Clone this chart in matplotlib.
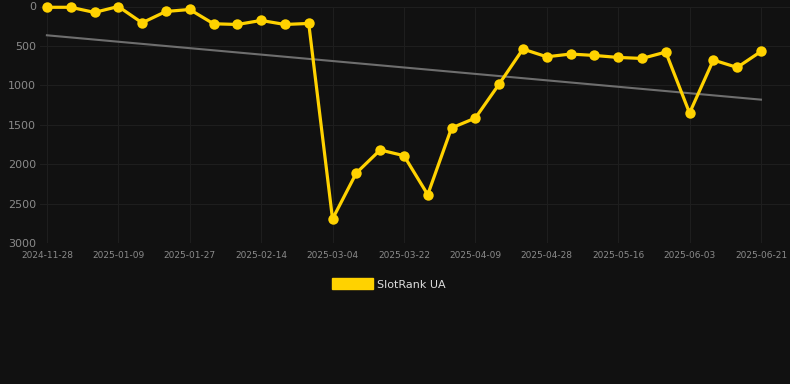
import numpy as np
import matplotlib.pyplot as plt
from matplotlib.patches import Patch

# =====================================================
# DATA
# =====================================================

tick_labels = ["2024-11-28", "2025-01-09", "2025-01-27", "2025-02-14",
               "2025-03-04", "2025-03-22", "2025-04-09", "2025-04-28",
               "2025-05-16", "2025-06-03", "2025-06-21"]

rank = [10, 10, 75, 0, 207, 63, 38, 219, 228, 177, 228, 215,
        2695, 2112, 1820, 1892, 2387, 1541, 1415, 984,
        540, 638, 603, 621, 646, 659, 578, 1351, 679, 773, 570]

series_name = "SlotRank UA"

BG = "#111111"
GOLD = "#FFD200"
GRID = "#1e1e1e"
TXT = "#8a8a8a"

x = np.arange(len(rank))

# trend (linear fit)
k, b = np.polyfit(x, rank, 1)
trend = k * x + b

# =====================================================
# PLOT
# =====================================================

fig = plt.figure(figsize=(7.9, 3.84), dpi=100, facecolor=BG)
ax = fig.add_axes([40 / 790, 1 - 243 / 384, 750 / 790, 236.5 / 384])
ax.set_facecolor(BG)

ax.plot(x, trend, color="#6e6e6e", lw=1.5, zorder=2)

ax.plot(x, rank, color=GOLD, lw=2.3, marker="o", markersize=7.5,
        markeredgewidth=0, zorder=3, clip_on=False)

ax.set_xlim(-0.29, 31.22)
ax.set_ylim(3000, 0)

ax.set_xticks(x[::3])
ax.set_xticklabels(tick_labels)
ax.set_yticks([0, 500, 1000, 1500, 2000, 2500, 3000])

ax.tick_params(axis="x", colors=TXT, labelsize=6.5, length=0, pad=6)
ax.tick_params(axis="y", colors=TXT, labelsize=8, length=0, pad=3)

ax.grid(True, color=GRID, lw=0.8)
for s in ax.spines.values():
    s.set_visible(False)

fig.legend(handles=[Patch(facecolor=GOLD, edgecolor=GOLD)],
           labels=[series_name],
           loc="center", bbox_to_anchor=(389 / 790, 1 - 284 / 384),
           frameon=False, fontsize=8, labelcolor="#dddddd",
           handlelength=3.7, handleheight=1.1, handletextpad=0.4)

plt.savefig("out.png", dpi=100, facecolor=BG)
